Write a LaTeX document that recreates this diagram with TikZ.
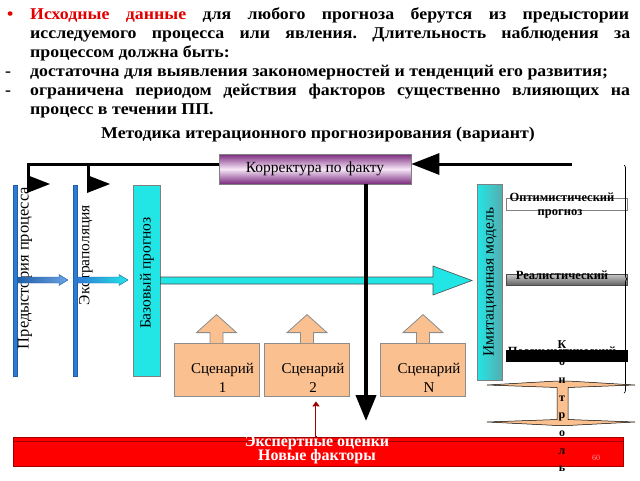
\documentclass[tikz,border=0pt]{standalone}
\usepackage{fontspec}
\setmainfont{Liberation Serif}
\newfontfamily\widefont{Liberation Serif}[FakeStretch=1.08]
\usetikzlibrary{arrows.meta,decorations.pathreplacing,calc}
\definecolor{peach}{HTML}{FAC090}
\definecolor{peachline}{HTML}{8C8C8C}
\definecolor{purpdark}{HTML}{7A2A7E}
\definecolor{purplight}{HTML}{F7E6F7}
\definecolor{bluebar}{HTML}{2E7BD6}
\definecolor{bluedark}{HTML}{1F5FA8}
\definecolor{cyanbox}{HTML}{22E6E6}
\definecolor{redbar}{HTML}{FF0000}
\definecolor{reddark}{HTML}{A00000}
\definecolor{textred}{HTML}{E00000}
\tikzset{
  toptext/.style={anchor=base west, inner sep=0pt, font=\widefont\fontsize{16.5}{19}\selectfont\bfseries\frenchspacing},
  lbl/.style={inner sep=0pt, font=\fontsize{15.5}{17}\selectfont},
  conn/.style={draw=black, line width=3pt},
  bluebarbox/.style={draw=bluedark, fill=bluebar, line width=0.5pt, minimum width=4pt, minimum height=191pt, inner sep=0pt},
  cyanrect/.style={draw=gray, fill=cyanbox, line width=0.6pt, inner sep=0pt},
  scenbox/.style={draw=peachline, fill=peach, line width=0.8pt, minimum width=85pt, minimum height=53pt, inner sep=0pt},
  scenlbl/.style={inner sep=0pt, anchor=base, font=\fontsize{15}{19}\selectfont},
  scenarrow/.style={draw=peachline, fill=peach, line width=0.8pt},
  resbar/.style={minimum width=121pt, inner sep=0pt, line width=0.5pt},
  reslbl/.style={inner sep=0pt, font=\fontsize{12.5}{13}\selectfont\bfseries},
  ctrlstyle/.style={inner sep=0pt, align=center, font=\fontsize{12}{17.7}\selectfont\bfseries, anchor=north},
  redlbl/.style={inner sep=0pt, anchor=base, text=white, font=\fontsize{16}{13}\selectfont\bfseries},
}
\begin{document}
\begin{tikzpicture}[x=1pt,y=-1pt]
\useasboundingbox (0,0) rectangle (640,480);
% ---------- top text ----------
\node[toptext, text=textred] (bul) at (7,19) {•};
\node[toptext] (l1) at (30,19) {\makebox[599pt][s]{\textcolor{textred}{Исходные данные} для любого прогноза берутся из предыстории}};
\node[toptext] (l2) at (30,38) {\makebox[600pt][s]{исследуемого процесса или явления. Длительность наблюдения за}};
\node[toptext] (l3) at (30,57) {процессом должна быть:};
\node[toptext] (d1) at (5,76) {-};
\node[toptext] (l4) at (30,76) {достаточна для выявления закономерностей и тенденций его развития;};
\node[toptext] (d2) at (5,95) {-};
\node[toptext] (l5) at (30,95) {\makebox[600pt][s]{ограничена периодом действия факторов существенно влияющих на}};
\node[toptext] (l6) at (30,114) {процесс в течении ПП.};
\node[toptext, anchor=base] (title) at (318,138) {Методика итерационного прогнозирования (вариант)};

% ---------- correction box ----------
\node[draw=gray, line width=0.6pt, top color=purpdark, bottom color=purpdark, middle color=purplight,
      minimum width=192pt, minimum height=30pt, inner sep=0pt, font=\fontsize{15.5}{17}\selectfont] (korr) at (315,169) {Корректура по факту};

% ---------- left bars ----------
\node[bluebarbox] (hist) at (15,280.5) {};
\node[bluebarbox] (extr) at (75,280.5) {};
\node[lbl, rotate=90, font=\fontsize{16.5}{17}\selectfont] (histlbl) at (25,268) {Предыстория процесса};
\node[lbl, rotate=90] (extrlbl) at (86,255) {Экстраполяция};
\node[cyanrect, minimum width=27pt, minimum height=191pt] (base) at (146.5,280.5) {};
\node[lbl, rotate=90] (baselbl) at (147,273) {Базовый прогноз};

% small blue arrows
\draw[draw=bluedark, line width=0.4pt, left color=bluedark, right color=bluebar!70!white]
  (hist.east |- 0,277) -- (59,277) -- (59,274.5) -- (68,280) -- (59,285.5) -- (59,283) -- (hist.east |- 0,283) -- cycle;
\draw[draw=bluedark, line width=0.4pt, left color=bluebar, right color=cyanbox]
  (extr.east |- 0,277) -- (119,277) -- (119,274.5) -- (128,280) -- (119,285.5) -- (119,283) -- (extr.east |- 0,283) -- cycle;

% ---------- imitation model ----------
\node[draw=gray, line width=0.6pt, left color=cyanbox, right color=cyanbox!45!gray, minimum width=25pt, minimum height=196pt, inner sep=0pt] (imit) at (489.5,282.5) {};
\node[lbl, rotate=90] (imitlbl) at (490,282) {Имитационная модель};

% long cyan arrow
\draw[draw=black!70, line width=0.6pt, fill=cyanbox]
  (base.east |- 0,277) -- (433,277) -- (433,266) -- (472,280.5) -- (433,295) -- (433,284) -- (base.east |- 0,284) -- cycle;

% ---------- black connectors ----------
\coordinate (j1) at (28,164);
\coordinate (j2) at (88,164);
\coordinate (fb) at (572,164);
\coordinate (downend) at (366,421);
\draw[conn, line cap=butt] (korr.west |- j1) -- (j1) -- ++(0,16);
\draw[conn] (j2) -- ++(0,16);
\fill[black] (27,175) -- (50,184) -- (27,193) -- cycle;
\fill[black] (87,175) -- (110,184) -- (87,193) -- cycle;
\draw[conn, -{Triangle[length=28pt,width=21pt]}] (fb) -- (fb -| korr.east);
\draw[line width=4pt, -{Triangle[length=26pt,width=20pt]}] (korr.south -| downend) -- (downend);

% ---------- scenarios ----------
\node[scenbox] (s1) at (216.5,369.5) {};
\node[scenbox] (s2) at (307,369.5) {};
\node[scenbox] (sN) at (423,369.5) {};
\foreach \s/\t in {s1/1,s2/2,sN/N}{
  \draw[scenarrow] ($(\s.north)+(-6.5,0.6)$) -- ++(0,-10.6) -- ++(-13.5,0) -- ($(\s.north)+(0,-28)$)
     -- ($(\s.north)+(20,-10)$) -- ++(-13.5,0) -- ++(0,10.6);
  \node[scenlbl] (\s a) at ($(\s.center)+(6,3.5)$) {Сценарий};
  \node[scenlbl] (\s b) at ($(\s.center)+(6,22.5)$) {\t};
}

% ---------- result bars ----------
\node[resbar, draw=gray, fill=white, minimum height=12pt] (opt) at (566.5,204) {};
\node[reslbl, anchor=base] (optlbl) at (562,201.5) {Оптимистический};
\node[reslbl, anchor=base] (optlbl2) at (560,215.5) {прогноз};
\node[resbar, draw=gray!60!black, top color=gray!45, bottom color=gray!75!black, minimum height=11pt] (real) at (566.5,280) {};
\node[reslbl, anchor=base] (reallbl) at (562,279) {Реалистический};
\node[reslbl, anchor=base] (pesslbl) at (562,355) {Пессимистический};
\node[resbar, draw=black, fill=black, minimum height=11pt] (pess) at (566.5,355.5) {};
\draw[line width=0.7pt, decorate, decoration={brace, amplitude=3pt}] (624,165) -- (624,393);

% control spool
\draw[fill=peach, draw=black, line width=0.5pt]
  (487,385) -- (557,381) -- (568,381) -- (635,385) -- (568,387.5) -- (568,419.5) -- (635,422)
  -- (568,425.5) -- (557,425.5) -- (487,422) -- (557,419.5) -- (557,387.5) -- cycle;

% ---------- red bar ----------
\node[draw=reddark, fill=redbar, line width=0.8pt, minimum width=610pt, minimum height=29pt, inner sep=0pt] (newf) at (318,451.5) {};
\draw[reddark, line width=1pt] (13.5,441) -- (622.5,441);
\node[redlbl] (expl) at (317,446) {Экспертные оценки};
\node[redlbl] (nfl) at (317,460) {Новые факторы};
\node[inner sep=0pt, anchor=base, text=red!40!white, font=\fontsize{8}{9}\selectfont] (pg) at (596,460) {60};
% control letters (over bars)
\node[ctrlstyle] (ctrl) at (562,340) {К\\о\\н\\т\\р\\о\\л\\ь};

% thin red arrow to scenario 2
\coordinate (ra) at (316,0);
\draw[reddark, line width=2.4pt, -{Triangle[length=5pt,width=7pt]}] (newf.north -| ra) -- ($(s2.south -| ra)+(0,5)$);
\draw[white, line width=0.8pt] ($(newf.north -| ra)+(0,-1)$) -- ($(s2.south -| ra)+(0,10)$);
\end{tikzpicture}
\end{document}
